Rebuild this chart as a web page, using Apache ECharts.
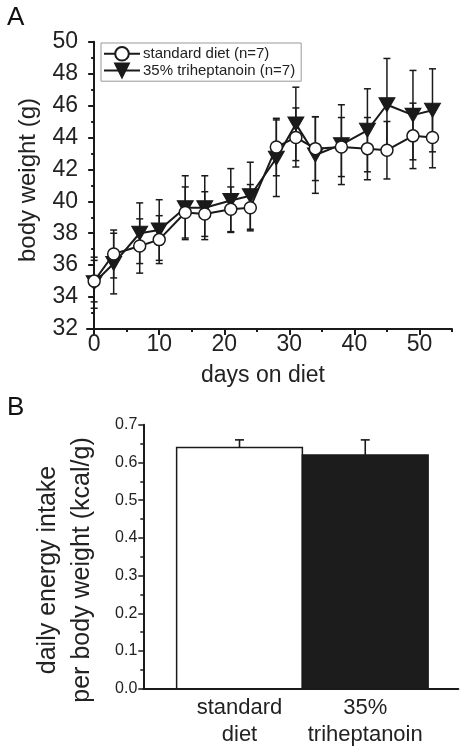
<!DOCTYPE html>
<html><head><meta charset="utf-8">
<script src="https://cdn.jsdelivr.net/npm/echarts@6/dist/echarts.min.js"></script>
<style>html,body{margin:0;padding:0;background:#fff}#c{width:465px;height:752px}</style>
</head><body><div id="c"></div>
<script>
// Panel A: body weight over time
const days     = [0, 3, 7, 10, 14, 17, 21, 24, 28, 31, 34, 38, 42, 45, 49, 52];
const stdMean  = [35.0, 36.7, 37.2, 37.6, 39.3, 39.2, 39.5, 39.6, 43.4, 44.0, 43.3, 43.4, 43.3, 43.2, 44.1, 44.0];
const stdSD    = [1.3, 1.5, 1.7, 1.5, 1.6, 1.4, 1.4, 1.45, 1.8, 1.85, 2.0, 1.85, 1.95, 1.8, 2.05, 1.9];
const triMean  = [34.9, 36.1, 38.0, 38.2, 39.6, 39.6, 40.05, 40.35, 42.7, 44.85, 42.9, 43.55, 44.45, 46.05, 45.4, 45.7];
const triSD    = [1.6, 1.9, 1.9, 1.9, 2.0, 2.0, 2.0, 2.1, 2.4, 2.3, 2.4, 2.5, 2.6, 2.9, 2.8, 2.6];
const dayTicks      = [0, 10, 20, 30, 40, 50];
const dayMinorTicks = [5, 15, 25, 35, 45, 55];
const seriesNames = ['standard diet (n=7)', '35% triheptanoin (n=7)'];

// Panel B: daily energy intake
const groupLabels = ['standard\ndiet', '35%\ntriheptanoin'];
const groupPos    = [1, 2];
const energy      = [0.64, 0.62];
const energyErr   = [0.02, 0.04];

const INK = '#1a1a1a';
const FONT = '"Liberation Sans", Arial, Helvetica, sans-serif';

function errBarItem(params, api) {
  const x = api.value(0), m = api.value(1), e = api.value(2);
  const hi = api.coord([x, m + e]), lo = api.coord([x, m - e]);
  const c = 3.5;
  const st = {stroke: INK, lineWidth: 1.5};
  return {type: 'group', children: [
    {type: 'line', shape: {x1: hi[0], y1: hi[1], x2: lo[0], y2: lo[1]}, style: st},
    {type: 'line', shape: {x1: hi[0] - c, y1: hi[1], x2: hi[0] + c, y2: hi[1]}, style: st},
    {type: 'line', shape: {x1: lo[0] - c, y1: lo[1], x2: lo[0] + c, y2: lo[1]}, style: st}
  ]};
}

function barItem(params, api) {
  const x = api.value(0), v = api.value(1), e = api.value(2);
  const p0 = api.coord([x - 0.5, 0]), p1 = api.coord([x + 0.5, v]);
  const top = api.coord([x, v + e]);
  const st = {stroke: INK, lineWidth: 1.6};
  return {type: 'group', children: [
    {type: 'rect', shape: {x: p0[0], y: p1[1], width: p1[0] - p0[0], height: p0[1] - p1[1]},
     style: {fill: params.dataIndex === 0 ? '#ffffff' : '#1c1c1c', stroke: INK, lineWidth: 1.5}},
    {type: 'line', shape: {x1: top[0], y1: p1[1], x2: top[0], y2: top[1]}, style: st},
    {type: 'line', shape: {x1: top[0] - 4.5, y1: top[1], x2: top[0] + 4.5, y2: top[1]}, style: st}
  ]};
}

const chart = echarts.init(document.getElementById('c'), null, {renderer: 'canvas'});
chart.setOption({
  animation: false,
  textStyle: {fontFamily: FONT, color: '#222'},
  grid: [
    {left: 87, right: 13, top: 41.7, height: 287.3},
    {left: 143.3, right: 6.7, top: 424.8, height: 263.9}
  ],
  legend: {
    data: seriesNames,
    orient: 'vertical',
    left: 101, top: 43,
    padding: [3, 6, 3, 2],
    itemGap: 1,
    itemWidth: 36, itemHeight: 17,
    borderColor: '#999', borderWidth: 1,
    textStyle: {fontSize: 15, color: '#222', fontFamily: FONT, padding: [0, 0, 0, -2]}
  },
  xAxis: [
    {gridIndex: 0, type: 'value', min: -1.1, max: 55, position: 'bottom',
     axisLine: {lineStyle: {color: INK, width: 2}},
     axisTick: {customValues: dayTicks, length: 6, lineStyle: {color: INK, width: 2}},
     axisLabel: {customValues: dayTicks, fontSize: 23, color: '#222', margin: 4, fontFamily: FONT},
     splitLine: {show: false}},
    {gridIndex: 0, type: 'value', min: -1.1, max: 55, position: 'bottom',
     axisLine: {show: false},
     axisTick: {customValues: dayMinorTicks, length: 3, lineStyle: {color: INK, width: 2}},
     axisLabel: {show: false}, splitLine: {show: false}},
    {gridIndex: 1, type: 'value', min: 0.235, max: 2.74,
     axisLine: {lineStyle: {color: INK, width: 2}},
     axisTick: {show: false},
     axisLabel: {customValues: groupPos, fontSize: 22, lineHeight: 27, color: '#222', margin: 6, fontFamily: FONT,
                 formatter: v => groupLabels[groupPos.indexOf(Math.round(v))]},
     splitLine: {show: false}}
  ],
  yAxis: [
    {gridIndex: 0, type: 'value', min: 32, max: 50, interval: 2,
     axisLine: {show: true, lineStyle: {color: INK, width: 2}},
     axisTick: {show: true, length: 6, lineStyle: {color: INK, width: 2}},
     minorTick: {show: true, splitNumber: 2, length: 3, lineStyle: {color: INK, width: 2}},
     axisLabel: {fontSize: 23, color: '#222', margin: 9, fontFamily: FONT},
     splitLine: {show: false}},
    {gridIndex: 1, type: 'value', min: 0, max: 0.7, interval: 0.1,
     axisLine: {show: true, lineStyle: {color: INK, width: 2}},
     axisTick: {show: true, length: 5, lineStyle: {color: INK, width: 1.5}},
     minorTick: {show: true, splitNumber: 2, length: 3, lineStyle: {color: INK, width: 1.5}},
     axisLabel: {fontSize: 16, color: '#222', margin: 6, fontFamily: FONT, formatter: v => v.toFixed(1)},
     splitLine: {show: false}}
  ],
  graphic: [
    {type: 'text', left: 7, top: 5, style: {text: 'A', fontSize: 26, fill: '#111', font: '26px ' + FONT}},
    {type: 'text', left: 7, top: 395, style: {text: 'B', fontSize: 26, fill: '#111', font: '26px ' + FONT}},
    {type: 'text', x: 28, y: 180, rotation: Math.PI / 2,
     style: {text: 'body weight (g)', font: '24px ' + FONT, fill: '#222', align: 'center', verticalAlign: 'middle'}},
    {type: 'text', x: 263, y: 376,
     style: {text: 'days on diet', font: '23px ' + FONT, fill: '#222', align: 'center', verticalAlign: 'middle'}},
    {type: 'text', x: 65, y: 570, rotation: Math.PI / 2,
     style: {text: 'daily energy intake\nper body weight (kcal/g)', font: '25px ' + FONT, lineHeight: 34,
             fill: '#222', align: 'center', verticalAlign: 'middle'}}
  ],
  series: [
    {type: 'custom', name: 'sdErr', xAxisIndex: 0, yAxisIndex: 0, z: 1,
     data: days.map((d, i) => [d, stdMean[i], stdSD[i]]), renderItem: errBarItem},
    {type: 'custom', name: 'triErr', xAxisIndex: 0, yAxisIndex: 0, z: 1,
     data: days.map((d, i) => [d, triMean[i], triSD[i]]), renderItem: errBarItem},
    {type: 'line', name: seriesNames[1], xAxisIndex: 0, yAxisIndex: 0, z: 3,
     data: days.map((d, i) => [d, triMean[i]]),
     symbol: 'triangle', symbolRotate: 180, symbolSize: [16, 14],
     lineStyle: {color: INK, width: 2},
     itemStyle: {color: INK, borderColor: INK, borderWidth: 1}},
    {type: 'line', name: seriesNames[0], xAxisIndex: 0, yAxisIndex: 0, z: 4,
     data: days.map((d, i) => [d, stdMean[i]]),
     symbol: 'circle', symbolSize: 12, showAllSymbol: true,
     lineStyle: {color: INK, width: 2},
     itemStyle: {color: '#ffffff', borderColor: INK, borderWidth: 1.5}},
    {type: 'custom', name: 'energy', xAxisIndex: 2, yAxisIndex: 1,
     data: energy.map((v, i) => [groupPos[i], v, energyErr[i]]), renderItem: barItem}
  ]
});
</script>
</body></html>
